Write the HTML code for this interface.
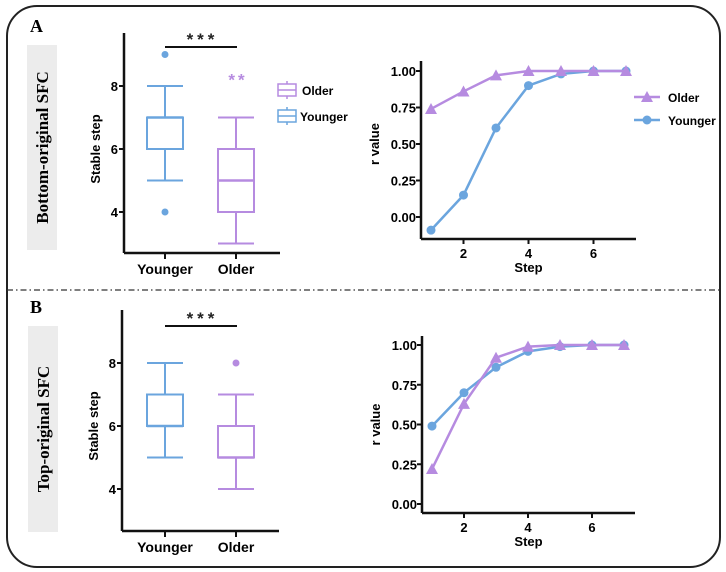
<!DOCTYPE html>
<html><head><meta charset="utf-8"><style>
html,body{margin:0;padding:0;background:#fff;}
svg{display:block;font-family:"Liberation Sans",Arial,sans-serif;}
</style></head><body>
<svg id="fig" width="726" height="572" viewBox="0 0 726 572" xmlns="http://www.w3.org/2000/svg">
<rect x="7" y="6" width="713" height="561" rx="30" ry="30" fill="none" stroke="#222" stroke-width="2"/>
<line x1="7" y1="290" x2="720" y2="290" stroke="#333" stroke-width="1.3" stroke-dasharray="6,3,1.5,3"/>
<text x="30" y="32" font-family="Liberation Serif,serif" font-weight="bold" font-size="18">A</text>
<text x="30" y="313" font-family="Liberation Serif,serif" font-weight="bold" font-size="18">B</text>
<rect x="27" y="45" width="30" height="205" fill="#ececec"/>
<rect x="28" y="326" width="30" height="206" fill="#ececec"/>
<text transform="translate(48,147.5) rotate(-90)" text-anchor="middle" font-family="Liberation Serif,serif" font-weight="bold" font-size="17">Bottom-original SFC</text>
<text transform="translate(49,429) rotate(-90)" text-anchor="middle" font-family="Liberation Serif,serif" font-weight="bold" font-size="17">Top-original SFC</text>
<g id="g"></g>
</svg>
<script>
// Box plot data
const boxGroups = ["Younger", "Older"];
const boxA_Younger = {min:5, q1:6, med:7, q3:7, max:8, out:[9,4]};
const boxA_Older = {min:3, q1:4, med:5, q3:6, max:7, out:[]};
const boxB_Younger = {min:5, q1:6, med:6, q3:7, max:8, out:[]};
const boxB_Older = {min:4, q1:5, med:5, q3:6, max:7, out:[8]};
const boxTicks = [4, 6, 8];
// Line data
const steps = [1,2,3,4,5,6,7];
const lineA_Older = [0.74,0.86,0.97,1.0,1.0,1.0,1.0];
const lineA_Younger = [-0.09,0.15,0.61,0.90,0.98,1.0,1.0];
const lineB_Older = [0.22,0.63,0.92,0.99,1.0,1.0,1.0];
const lineB_Younger = [0.49,0.70,0.86,0.96,0.99,1.0,1.0];
const rTicks = [0,0.25,0.5,0.75,1.0];
const rTickLabels = ["0.00","0.25","0.50","0.75","1.00"];
const stepTicks = [2,4,6];

const BLUE="#6ba5de", PURP="#b68be0";
const NS="http://www.w3.org/2000/svg";
const root=document.getElementById('g');
function el(tag,attrs,parent,text){const e=document.createElementNS(NS,tag);for(const k in attrs)e.setAttribute(k,attrs[k]);if(text!==undefined)e.textContent=text;(parent||root).appendChild(e);return e;}

function boxPanel(p){
  const y=v=>p.y0-(v-p.v0)*p.ppu;
  const g=el('g',{});
  
  
  let a=el('line',{x1:p.ax,y1:p.top,x2:p.ax,y2:p.bot,stroke:'#111','stroke-width':2.5},g);
  
  a=el('line',{x1:p.ax,y1:p.bot,x2:p.axr,y2:p.bot,stroke:'#111','stroke-width':2.5},g);
  
  boxTicks.forEach(t=>{
    el('line',{x1:p.ax-5,y1:y(t),x2:p.ax,y2:y(t),stroke:'#111','stroke-width':2},g);
    const tx=el('text',{x:p.ax-6,y:y(t)+5,'text-anchor':'end','font-size':13,'font-weight':'bold'},g,String(t));
    
  });
  const t=el('text',{transform:`translate(${p.ax-24},${(y(8)+y(4))/2}) rotate(-90)`,'text-anchor':'middle','font-size':13,'font-weight':'bold'},g,'Stable step');
  
  const data=[p.younger,p.older],cols=[BLUE,PURP];
  boxGroups.forEach((name,i)=>{
    const cx=p.xs[i],d=data[i],c=cols[i],w=18;
    el('line',{x1:cx,y1:p.bot,x2:cx,y2:p.bot+6,stroke:'#111','stroke-width':2},g);
    const lb=el('text',{x:cx,y:p.bot+21,'text-anchor':'middle','font-size':14,'font-weight':'bold'},g,name);
    
    const bg=el('g',{stroke:c,'stroke-width':2,fill:'none'},g);
    
    el('line',{x1:cx,y1:y(d.max),x2:cx,y2:y(d.q3)},bg);
    el('line',{x1:cx,y1:y(d.q1),x2:cx,y2:y(d.min)},bg);
    el('line',{x1:cx-w,y1:y(d.max),x2:cx+w,y2:y(d.max)},bg);
    el('line',{x1:cx-w,y1:y(d.min),x2:cx+w,y2:y(d.min)},bg);
    el('rect',{x:cx-w,y:y(d.q3),width:2*w,height:y(d.q1)-y(d.q3)},bg);
    el('line',{x1:cx-w,y1:y(d.med),x2:cx+w,y2:y(d.med),'stroke-width':2.5},bg);
    d.out.forEach(o=>{const ci=el('circle',{cx:cx,cy:y(o),r:3.5,fill:c,stroke:'none'},g);
      });
  });
  const br=el('line',{x1:p.xs[0],y1:p.barY,x2:p.xs[1]+1,y2:p.barY,stroke:'#111','stroke-width':2},g);
  
  const st=el('text',{x:(p.xs[0]+p.xs[1])/2+2,y:p.barY-2,'text-anchor':'middle','font-size':17,'font-weight':'bold',fill:'#222','letter-spacing':'4'},g,'***');
  
  return {g,y};
}

const pa=boxPanel({name:'boxplot-a',ax:124,axr:280,top:33,bot:253,y0:149,v0:6,ppu:31.5,xs:[165,236],barY:47,younger:boxA_Younger,older:boxA_Older});
const dd=el('text',{x:238,y:pa.y(8.3)+9,'text-anchor':'middle','font-size':17,'font-weight':'bold',fill:PURP,'letter-spacing':'3'},pa.g,'**');

[['Older',PURP,90],['Younger',BLUE,116]].forEach(([n,c,yy])=>{
  const lg=el('g',{},pa.g);
  
  el('rect',{x:278,y:yy-6,width:18,height:12,fill:'none',stroke:c,'stroke-width':1.5},lg);
  el('line',{x1:278,y1:yy,x2:296,y2:yy,stroke:c,'stroke-width':1.5},lg);
  el('line',{x1:287,y1:yy-9,x2:287,y2:yy-6,stroke:c,'stroke-width':1.5},lg);
  el('line',{x1:287,y1:yy+6,x2:287,y2:yy+9,stroke:c,'stroke-width':1.5},lg);
  el('text',{x:n==='Older'?302:300,y:yy+5,'font-size':12,'font-weight':'bold'},lg,n);
});
boxPanel({name:'boxplot-b',ax:122,axr:279,top:310,bot:531,y0:426,v0:6,ppu:31.5,xs:[165,236],barY:326,younger:boxB_Younger,older:boxB_Older});

function linePanel(p){
  const x=s=>p.x1+(s-1)*p.pps, y=v=>p.y0-v*(p.y0-p.y1);
  const g=el('g',{});
  
  let a=el('line',{x1:p.ax,y1:p.top,x2:p.ax,y2:p.bot,stroke:'#111','stroke-width':2.5},g);
  
  a=el('line',{x1:p.ax,y1:p.bot,x2:p.axr,y2:p.bot,stroke:'#111','stroke-width':2.5},g);
  
  rTicks.forEach((t,i)=>{
    el('line',{x1:p.ax-5,y1:y(t),x2:p.ax,y2:y(t),stroke:'#111','stroke-width':2},g);
    const tx=el('text',{x:p.ax-5,y:y(t)+5,'text-anchor':'end','font-size':13,'font-weight':'bold'},g,rTickLabels[i]);
    
  });
  stepTicks.forEach(s=>{
    el('line',{x1:x(s),y1:p.bot,x2:x(s),y2:p.bot+5,stroke:'#111','stroke-width':2},g);
    const tx=el('text',{x:x(s),y:p.bot+19,'text-anchor':'middle','font-size':13,'font-weight':'bold'},g,String(s));
    
  });
  let t=el('text',{x:(p.ax+p.axr)/2,y:p.bot+33,'text-anchor':'middle','font-size':13,'font-weight':'bold'},g,'Step');
  
  t=el('text',{transform:`translate(${p.ax-42},${(y(0)+y(1))/2}) rotate(-90)`,'text-anchor':'middle','font-size':13,'font-weight':'bold'},g,'r value');
  
  const series=p.order;
  series.forEach(([nm,vals,c,mk])=>{
    const sg=el('g',{},g);
    
    el('polyline',{points:steps.map((s,i)=>x(s)+','+y(vals[i])).join(' '),fill:'none',stroke:c,'stroke-width':2.5},sg);
    steps.forEach((s,i)=>{
      let m;
      if(mk==='tri') m=el('polygon',{points:`${x(s)},${y(vals[i])-6} ${x(s)-6},${y(vals[i])+5} ${x(s)+6},${y(vals[i])+5}`,fill:c},sg);
      else m=el('circle',{cx:x(s),cy:y(vals[i]),r:4.5,fill:c},sg);
      
    });
  });
  return g;
}
const la=linePanel({name:'line-chart-a',ax:421,axr:636,top:61,bot:239,x1:431,pps:32.5,y0:217,y1:71,
  order:[['Younger',lineA_Younger,BLUE,'c'],['Older',lineA_Older,PURP,'tri']]});
[['Older',PURP,97,'tri'],['Younger',BLUE,120,'c']].forEach(([n,c,yy,mk])=>{
  const lg=el('g',{},la);
  
  el('line',{x1:634,y1:yy,x2:660,y2:yy,stroke:c,'stroke-width':2.5},lg);
  if(mk==='tri') el('polygon',{points:`647,${yy-6} 641,${yy+5} 653,${yy+5}`,fill:c},lg);
  else el('circle',{cx:647,cy:yy,r:4.5,fill:c},lg);
  el('text',{x:668,y:yy+5,'font-size':12,'font-weight':'bold'},lg,n);
});
linePanel({name:'line-chart-b',ax:422,axr:635,top:336,bot:513,x1:432,pps:32,y0:504,y1:345,
  order:[['Younger',lineB_Younger,BLUE,'c'],['Older',lineB_Older,PURP,'tri']]});
</script>
</body></html>
